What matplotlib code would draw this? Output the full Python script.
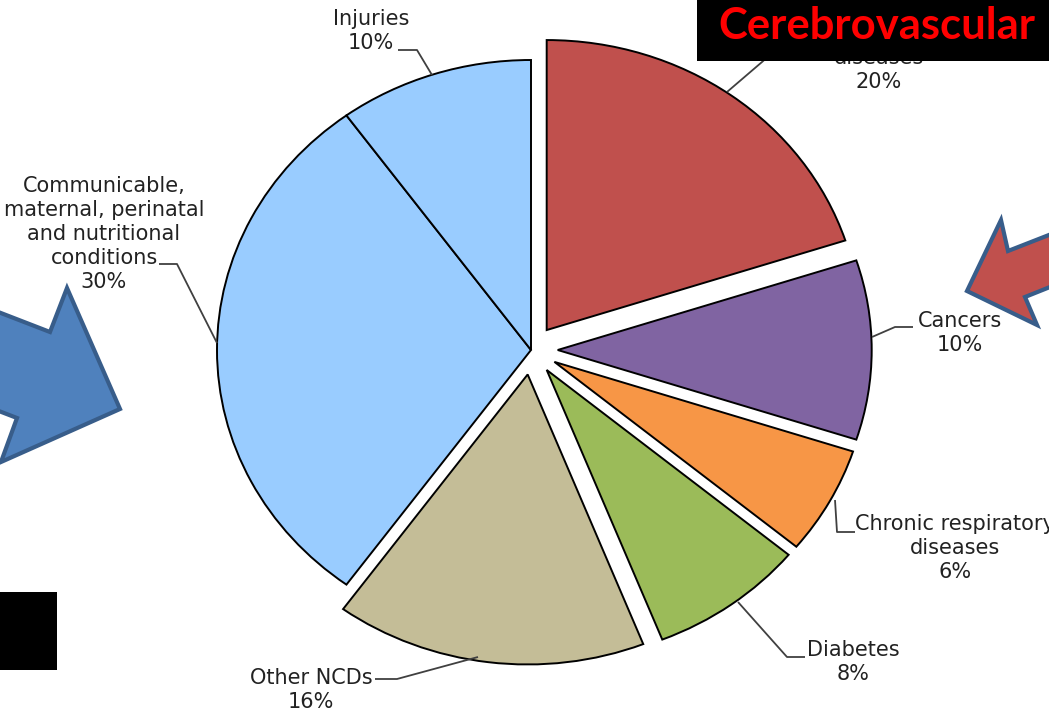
import matplotlib
matplotlib.use("Agg")
import matplotlib.pyplot as plt
from matplotlib.patches import Polygon, Rectangle

# ---------------- data ----------------
categories = [
    "Cardiovascular\ndiseases",
    "Cancers",
    "Chronic respiratory\ndiseases",
    "Diabetes",
    "Other NCDs",
    "Communicable,\nmaternal, perinatal\nand nutritional\nconditions",
    "Injuries",
]
values = [20, 10, 6, 8, 16, 30, 10]
colors = ["#C0504D", "#8064A2", "#F79646", "#9BBB59", "#C4BD97", "#99CCFF", "#99CCFF"]
explode = [0.085, 0.085, 0.085, 0.085, 0.085, 0.0, 0.0]
overlay_title = "Cerebrovascular"

# ---------------- layout (pixels) ----------------
W, H = 1049, 711
cx, cy, rx, ry = 531, 350, 314, 290

label_pos = [(879, 58), (960, 333), (955, 548), (853, 662), (311, 690), (104, 234), (371, 31)]
leaders = [
    [(727, 92), (762, 62), (780, 46), (805, 46)],
    [(872, 337), (895, 327), (913, 327)],
    [(835, 500), (837, 532), (855, 532)],
    [(738, 602), (787, 657), (805, 657)],
    [(478, 657), (397, 679), (375, 679)],
    [(217, 343), (177, 264), (159, 264)],
    [(432, 75), (417, 50), (398, 50)],
]

fig = plt.figure(figsize=(W / 100, H / 100), dpi=100)

# pie axes: unit circle mapped onto an ellipse (rx, ry pixels)
pax = fig.add_axes([0, 0, 1, 1])
pax.pie(values, colors=colors, explode=explode, startangle=90, counterclock=False,
        radius=1, center=(0, 0), frame=False,
        wedgeprops=dict(edgecolor="black", linewidth=1.4))
pax.set_aspect("auto")
pax.set_xlim(-cx / rx, (W - cx) / rx)
pax.set_ylim(-(H - cy) / ry, cy / ry)
pax.axis("off")

# overlay axes in pixel coordinates
ox = fig.add_axes([0, 0, 1, 1])
ox.set_xlim(0, W)
ox.set_ylim(H, 0)
ox.axis("off")
ox.patch.set_alpha(0)

for cat, v, (x, y), pts in zip(categories, values, label_pos, leaders):
    ox.text(x, y, f"{cat}\n{v}%", ha="center", va="center", multialignment="center",
            fontsize=15, family="DejaVu Sans", color="#222222", linespacing=1.26, zorder=3)
    xs = [p[0] for p in pts]
    ys = [p[1] for p in pts]
    ox.plot(xs, ys, color="#404040", lw=1.3, zorder=2, solid_capstyle="butt")

# blue arrow (left)
blue_arrow = [(-100, 274), (50, 332), (67, 288), (120, 409), (1, 462), (17, 418), (-100, 373)]
ox.add_patch(Polygon(blue_arrow, closed=True, facecolor="#4F81BD", edgecolor="#385D8A",
                     lw=3, joinstyle="miter", zorder=4))
# red arrow (right)
red_arrow = [(1100, 215), (1008, 251), (1001, 220), (967, 291), (1037, 325), (1025, 297), (1100, 267)]
ox.add_patch(Polygon(red_arrow, closed=True, facecolor="#C0504D", edgecolor="#385D8A",
                     lw=3, joinstyle="miter", zorder=4))
# black square bottom-left
ox.add_patch(Rectangle((0, 592), 57, 78, facecolor="black", edgecolor="none", zorder=5))
# black title box
ox.add_patch(Rectangle((697, 0), 360, 61, facecolor="black", edgecolor="none", zorder=5))
t = ox.text(876.5, 39, overlay_title, ha="center", va="baseline", color="#FF0000",
            fontsize=30, fontweight="bold", family="Lato", zorder=6)
fig.canvas.draw()
bb = t.get_window_extent()
t.set_fontsize(30 * 317 / bb.width)

fig.savefig("out.png", dpi=100)
